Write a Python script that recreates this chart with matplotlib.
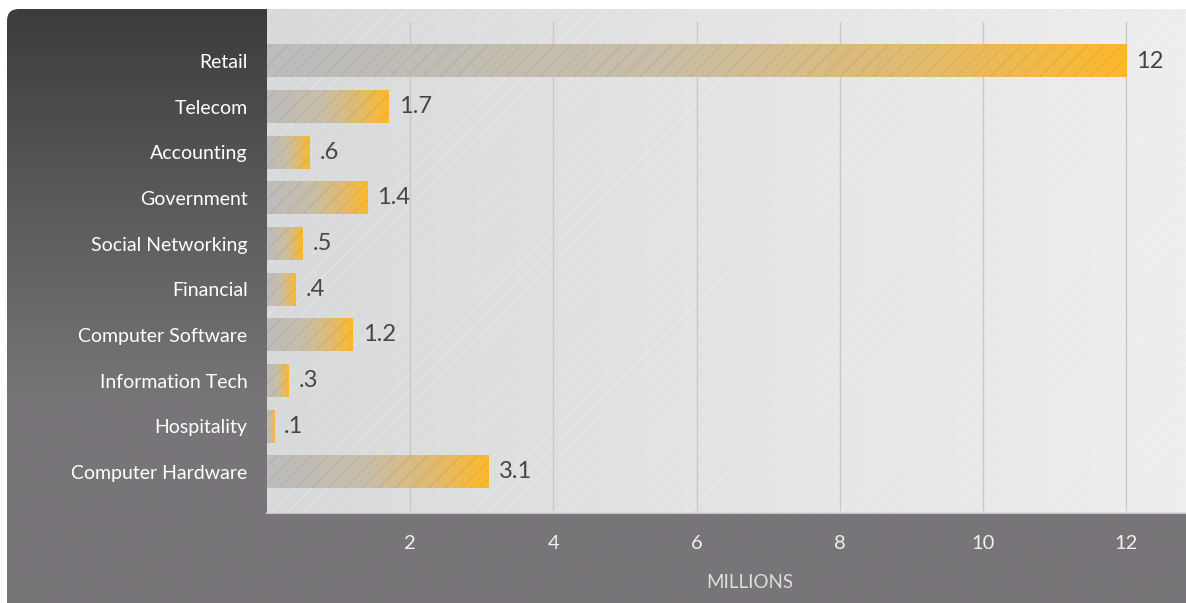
import numpy as np
import matplotlib
matplotlib.use("Agg")
import matplotlib.pyplot as plt
from matplotlib.colors import LinearSegmentedColormap
from matplotlib.patches import FancyBboxPatch, Rectangle

plt.rcParams['font.family'] = ['Lato', 'DejaVu Sans']
plt.rcParams['hatch.linewidth'] = 0.6

industries = ["Retail", "Telecom", "Accounting", "Government", "Social Networking",
              "Financial", "Computer Software", "Information Tech", "Hospitality",
              "Computer Hardware"]
records = [12, 1.7, 0.6, 1.4, 0.5, 0.4, 1.2, 0.3, 0.1, 3.1]
value_text = ["12", "1.7", ".6", "1.4", ".5", ".4", "1.2", ".3", ".1", "3.1"]
xticks = [2, 4, 6, 8, 10, 12]

W, H = 1186, 603
fig = plt.figure(figsize=(W / 100, H / 100), dpi=100, facecolor="white")

# card behind everything: dark at the top fading to mid gray
bg = fig.add_axes([0, 0, 1, 1], zorder=0)
bg.set_xlim(0, W)
bg.set_ylim(H, 0)
bg.axis("off")
card_cmap = LinearSegmentedColormap.from_list("card", ["#3b3b3b", "#5a595b", "#787579", "#787579"])
vgrad = np.linspace(0, 1, 256).reshape(-1, 1)
img = bg.imshow(vgrad, cmap=card_cmap, extent=[0, W, H, 0], aspect="auto")
card = FancyBboxPatch((7, 9), W + 40, H + 40, boxstyle="round,pad=0,rounding_size=12",
                      transform=bg.transData, facecolor="none", edgecolor="none")
bg.add_patch(card)
img.set_clip_path(card)

# plot area
left, top, bottom = 267, 9, 513
ax = fig.add_axes([left / W, (H - bottom) / H, (W - left) / W, (bottom - top) / H], zorder=1)
ax.set_facecolor("none")

plot_cmap = LinearSegmentedColormap.from_list("plot", ["#d8d9da", "#e4e4e5", "#eeeeef"])
hgrad = np.linspace(0, 1, 256).reshape(1, -1)
ax.imshow(hgrad, cmap=plot_cmap, extent=[0, 1, 0, 1], transform=ax.transAxes,
          aspect="auto", zorder=0)
ax.add_patch(Rectangle((0, 0), 1, 1, transform=ax.transAxes, facecolor="none",
                       edgecolor=(1, 1, 1, 0.3), hatch="//", lw=0, zorder=0.5))

for x in xticks:
    ax.axvline(x, ymin=0.006, ymax=0.974, color="#c9c9ca", lw=1, zorder=1)

bar_cmap = LinearSegmentedColormap.from_list(
    "bar", [(0, "#bcbcbd"), (0.45, "#c8bea8"), (0.75, "#e1bb70"), (1, "#fcb82a")])
h = 0.72
ypos = np.arange(len(industries))
for y, v in zip(ypos, records):
    ax.imshow(hgrad, cmap=bar_cmap, extent=[0, v, y + h / 2, y - h / 2],
              aspect="auto", zorder=2)
ax.barh(ypos, records, height=h, color="none", edgecolor=(0.3, 0.3, 0.3, 0.14),
        hatch="//", lw=0, zorder=3)

for y, v, t in zip(ypos, records, value_text):
    ax.text(v + 0.14, y, t, va="center", ha="left", fontsize=17, color="#464646",
            zorder=4)

ax.set_xlim(0, (W - left) / 71.6)
ax.set_ylim(9.9, -1.14)
ax.set_aspect("auto")
ax.set_yticks(ypos)
ax.set_yticklabels(industries)
ax.set_xticks(xticks)
ax.set_xticklabels([str(x) for x in xticks])
ax.tick_params(axis="y", colors="white", length=0, pad=14, labelsize=14)
ax.tick_params(axis="x", colors="#f0f0f0", length=0, pad=16, labelsize=14.5)
for s in ["top", "right", "left"]:
    ax.spines[s].set_visible(False)
ax.spines["bottom"].set_color("#d6d6d6")
ax.spines["bottom"].set_linewidth(1.2)

ax.set_xlabel("MILLIONS", color="#dedede", fontsize=13.5)
ax.xaxis.set_label_coords((750 - left) / (W - left), -(582 - bottom) / (bottom - top))
ax.xaxis.label.set_va("center")

fig.savefig("out.png", dpi=100, facecolor="white")
